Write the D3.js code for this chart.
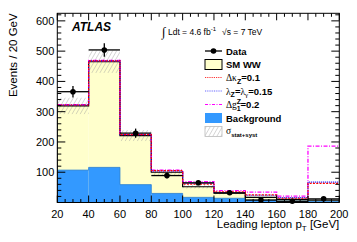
<!DOCTYPE html>
<html><head><meta charset="utf-8">
<script src="https://cdn.jsdelivr.net/npm/d3@7"></script>
<style>body{margin:0;background:#fff;}svg{display:block;font-family:"Liberation Sans",Arial,sans-serif;}</style>
</head><body>
<svg id="c" width="357" height="242"></svg>
<script>
const binEdges = [20,40,60,80,100,120,140,160,180,200];
const dataVals = [366,504,229,89,65,32,8,4,12];
const smTotal  = [319,465,221,100,52,31,17,10,8];
const bkgVals  = [107,116,59,30,17,14,8,5,4];
const uncVals  = [27,37,18,9,6,4,3,2,2];
const kappaZ   = [322,468,224,105,61,35,25,14,63];
const lambdaZ  = [322,468,224,104,63,33,24,16,67];
const g1Z      = [323,469,225,107,69,39,34,21,186];
const xTicks = [20,40,60,80,100,120,140,160,180,200];
const yTicks = [100,200,300,400,500,600];

const svg = d3.select("#c");
const L=57.3,R=339.3,T=13.3,B=202.5;
const x = d3.scaleLinear().domain([20,200]).range([L,R]);
const y = d3.scaleLinear().domain([0,625]).range([B,T]);
const serif = "'Liberation Serif','DejaVu Serif',serif";

const defs = svg.append("defs");
defs.append("clipPath").attr("id","clip").append("rect").attr("x",L).attr("y",T).attr("width",R-L).attr("height",B-T);
const pat = defs.append("pattern").attr("id","hatch").attr("patternUnits","userSpaceOnUse").attr("width",3.5).attr("height",4).attr("patternTransform","rotate(30)");
pat.append("line").attr("x1",0).attr("y1",0).attr("x2",0).attr("y2",4).attr("stroke","#999").attr("stroke-width",0.8);

const bins = dataVals.map((d,i)=>({x0:binEdges[i],x1:binEdges[i+1],data:d,sm:smTotal[i],bkg:bkgVals[i],unc:uncVals[i]}));
const g = svg.append("g").attr("clip-path","url(#clip)");

g.selectAll(".sm").data(bins).join("rect").attr("x",d=>x(d.x0)).attr("width",d=>x(d.x1)-x(d.x0))
 .attr("y",d=>y(d.sm)).attr("height",d=>y(0)-y(d.sm)).attr("fill","#ffffcc");
g.selectAll(".bk").data(bins).join("rect").attr("x",d=>x(d.x0)).attr("width",d=>x(d.x1)-x(d.x0))
 .attr("y",d=>y(d.bkg)).attr("height",d=>y(0)-y(d.bkg)).attr("fill","#3399ff");
const step = (arr)=>{const pts=arr.map((v,i)=>[binEdges[i],v]);pts.push([binEdges[arr.length],arr[arr.length-1]]);return pts;};
const line = d3.line().x(d=>x(d[0])).y(d=>y(d[1])).curve(d3.curveStepAfter);
g.append("path").attr("d",line(step(bkgVals))).attr("fill","none").attr("stroke","#2a7fd0").attr("stroke-width",0.8);
g.selectAll(".unc").data(bins).join("rect").attr("x",d=>x(d.x0)).attr("width",d=>x(d.x1)-x(d.x0))
 .attr("y",d=>y(d.sm+d.unc)).attr("height",d=>y(d.sm-d.unc)-y(d.sm+d.unc)).attr("fill","url(#hatch)");
const smPts = [[20,0]].concat(step(smTotal)).concat([[200,0]]);
g.append("path").attr("d",line(smPts)).attr("fill","none").attr("stroke","#000").attr("stroke-width",1.2);
g.append("path").attr("d",line(step(g1Z))).attr("fill","none").attr("stroke","#ff00ff").attr("stroke-width",1.3).attr("stroke-dasharray","4,1.5,1,1.5");
g.append("path").attr("d",line(step(lambdaZ))).attr("fill","none").attr("stroke","#0000ff").attr("stroke-width",1.2).attr("stroke-dasharray","1,1");
g.append("path").attr("d",line(step(kappaZ))).attr("fill","none").attr("stroke","#ff0000").attr("stroke-width",1.2).attr("stroke-dasharray","2,1.3");

const dg = svg.append("g");
dg.selectAll(".eh").data(bins).join("line").attr("x1",d=>x(d.x0)).attr("x2",d=>x(d.x1)).attr("y1",d=>y(d.data)).attr("y2",d=>y(d.data)).attr("stroke","#000").attr("stroke-width",1.3);
dg.selectAll(".ev").data(bins).join("line").attr("x1",d=>x((d.x0+d.x1)/2)).attr("x2",d=>x((d.x0+d.x1)/2))
 .attr("y1",d=>y(d.data+Math.sqrt(d.data))).attr("y2",d=>y(Math.max(0,d.data-Math.sqrt(d.data)))).attr("stroke","#000").attr("stroke-width",1.3);
dg.selectAll(".pt").data(bins).join("circle").attr("cx",d=>x((d.x0+d.x1)/2)).attr("cy",d=>y(d.data)).attr("r",2.8).attr("fill","#000");

svg.append("rect").attr("x",L).attr("y",T).attr("width",R-L).attr("height",B-T).attr("fill","none").attr("stroke","#000").attr("stroke-width",1);
const tk = svg.append("g").attr("stroke","#000").attr("stroke-width",1);
for(let v=20; v<=200; v+=5){const len=(v%20===0)?7:3.5;
  tk.append("line").attr("x1",x(v)).attr("x2",x(v)).attr("y1",B).attr("y2",B-len);
  tk.append("line").attr("x1",x(v)).attr("x2",x(v)).attr("y1",T).attr("y2",T+len);}
for(let v=20; v<=620; v+=20){const len=(v%100===0)?8:4;
  tk.append("line").attr("x1",L).attr("x2",L+len).attr("y1",y(v)).attr("y2",y(v));
  tk.append("line").attr("x1",R).attr("x2",R-len).attr("y1",y(v)).attr("y2",y(v));}

svg.append("g").selectAll("text").data(xTicks).join("text").attr("x",d=>x(d)).attr("y",B+15).attr("text-anchor","middle").attr("font-size",11).text(d=>d);
svg.append("g").selectAll("text").data(yTicks).join("text").attr("x",L-3).attr("y",d=>y(d)+4).attr("text-anchor","end").attr("font-size",11).text(d=>d);

const xl = svg.append("text").attr("x",R).attr("y",228).attr("text-anchor","end").attr("font-size",11.5);
xl.append("tspan").text("Leading lepton p");
xl.append("tspan").attr("font-size",8).attr("dy",3).text("T");
xl.append("tspan").attr("dy",-3).text(" [GeV]");
svg.append("text").attr("transform","translate(17,"+T+") rotate(-90)").attr("text-anchor","end").attr("font-size",11.5).text("Events / 20 GeV");

svg.append("text").attr("x",72).attr("y",31).attr("font-size",12).attr("font-weight","bold").attr("font-style","italic").text("ATLAS");
const lt = svg.append("text").attr("x",162).attr("y",35).attr("font-size",8.5);
lt.append("tspan").attr("font-size",13).attr("dy",1).attr("font-family",serif).text("∫");
lt.append("tspan").attr("dy",-1).text(" Ldt = 4.6 fb");
lt.append("tspan").attr("font-size",6).attr("dy",-4).text("-1");
lt.append("tspan").attr("dy",4).attr("dx",6).text("√s = 7 TeV");

const lg = svg.append("g").attr("font-size",9.5).attr("font-weight","bold");
const lx0=205, lx1=222, tx=226;
const rows=[51,64.5,77.5,91,104.5,118,131.5];
lg.append("line").attr("x1",lx0).attr("x2",lx1).attr("y1",rows[0]).attr("y2",rows[0]).attr("stroke","#000").attr("stroke-width",1.3);
lg.append("circle").attr("cx",(lx0+lx1)/2).attr("cy",rows[0]).attr("r",2.8);
lg.append("rect").attr("x",lx0).attr("y",rows[1]-5).attr("width",lx1-lx0).attr("height",10).attr("fill","#ffffcc").attr("stroke","#000").attr("stroke-width",1);
lg.append("line").attr("x1",lx0).attr("x2",lx1).attr("y1",rows[2]).attr("y2",rows[2]).attr("stroke","#ff3333").attr("stroke-width",1).attr("stroke-dasharray","1.2,1");
lg.append("line").attr("x1",lx0).attr("x2",lx1).attr("y1",rows[3]).attr("y2",rows[3]).attr("stroke","#6666ff").attr("stroke-width",1).attr("stroke-dasharray","1,0.8");
lg.append("line").attr("x1",lx0).attr("x2",lx1).attr("y1",rows[4]).attr("y2",rows[4]).attr("stroke","#ff00ff").attr("stroke-width",1.1).attr("stroke-dasharray","3,1.5,1,1.5");
lg.append("rect").attr("x",lx0).attr("y",rows[5]-5).attr("width",lx1-lx0).attr("height",10).attr("fill","#3399ff");
lg.append("rect").attr("x",lx0).attr("y",rows[6]-5).attr("width",lx1-lx0).attr("height",10).attr("fill","url(#hatch)").attr("stroke","#bbb").attr("stroke-width",0.8);
lg.append("text").attr("x",tx).attr("y",rows[0]+3.5).text("Data");
lg.append("text").attr("x",tx).attr("y",rows[1]+3.5).text("SM WW");
let t=lg.append("text").attr("x",tx).attr("y",rows[2]+3.5);
t.append("tspan").attr("font-weight","normal").attr("font-family",serif).text("Δκ");t.append("tspan").attr("font-size",7).attr("dy",2.5).text("Z");t.append("tspan").attr("dy",-2.5).text("=0.1");
t=lg.append("text").attr("x",tx).attr("y",rows[3]+3.5);
t.append("tspan").attr("font-weight","normal").attr("font-family",serif).text("λ");t.append("tspan").attr("font-size",7).attr("dy",2.5).text("Z");t.append("tspan").attr("dy",-2.5).text("=");
t.append("tspan").attr("font-weight","normal").attr("font-family",serif).text("λ");t.append("tspan").attr("font-size",7).attr("dy",2.5).attr("font-weight","normal").attr("font-family",serif).text("γ");t.append("tspan").attr("dy",-2.5).text("=0.15");
t=lg.append("text").attr("x",tx).attr("y",rows[4]+3.5);
t.append("tspan").attr("font-weight","normal").attr("font-family",serif).text("Δg");t.append("tspan").attr("font-size",7).attr("dy",-4).text("Z");
t.append("tspan").attr("font-size",7).attr("dx",-4.5).attr("dy",7).text("1");t.append("tspan").attr("dy",-3).text("=0.2");
lg.append("text").attr("x",tx).attr("y",rows[5]+3.5).text("Background");
t=lg.append("text").attr("x",tx).attr("y",rows[6]+2.5);
t.append("tspan").attr("font-weight","normal").attr("font-family",serif).text("σ");t.append("tspan").attr("font-size",6).attr("dy",2.5).text("stat+syst");
</script>
</body></html>
